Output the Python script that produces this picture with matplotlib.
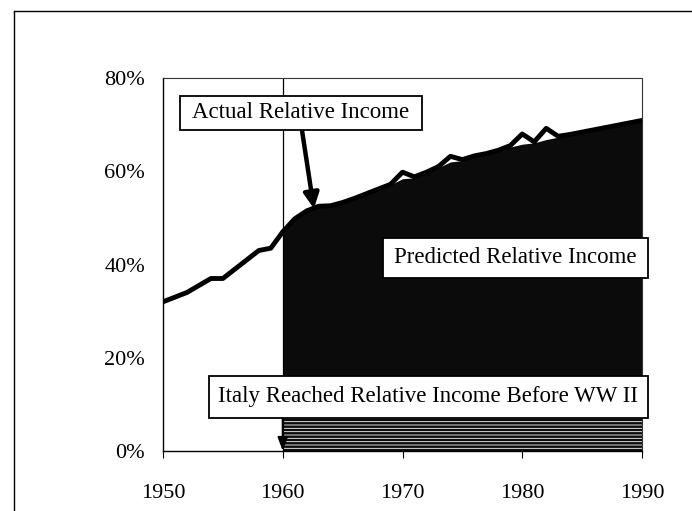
import numpy as np
import matplotlib
matplotlib.use("Agg")
import matplotlib.pyplot as plt
from matplotlib.patches import Rectangle
from matplotlib.lines import Line2D

plt.rcParams['font.family'] = ['Liberation Serif', 'DejaVu Serif']
plt.rcParams['hatch.linewidth'] = 0.6

# actual relative income, 1950-1990 (share of benchmark income, %)
years = np.arange(1950, 1991)
actual = [32.0, 33.0, 34.0, 35.5, 37.0, 37.0, 39.0, 41.0, 43.0, 43.5,
          47.0, 49.8, 51.5, 52.5, 52.6, 53.3, 54.2, 55.2, 56.2, 57.2,
          59.8, 58.8, 59.8, 61.0, 63.2, 62.5, 63.3, 63.8, 64.5, 65.5,
          68.0, 66.3, 69.2, 67.5, 67.9, 68.4, 68.9, 69.4, 69.9, 70.4, 70.9]

# predicted relative income, 1960-1990 (shaded area)
pred_years = np.arange(1960, 1991)
predicted = [46.5, 49.5, 51.3, 52.3, 52.5, 53.2, 54.1, 55.1, 56.1, 57.1,
             58.4, 58.6, 59.6, 60.8, 62.0, 62.3, 63.1, 63.7, 64.4, 65.2,
             65.8, 66.1, 66.8, 67.3, 67.8, 68.3, 68.8, 69.3, 69.8, 70.3, 70.8]

prewar_year = 1960
yticks = [0, 20, 40, 60, 80]
ytick_labels = ['0%', '20%', '40%', '60%', '80%']
xticks = [1950, 1960, 1970, 1980, 1990]

fig = plt.figure(figsize=(6.92, 5.11), dpi=100)
ax = fig.add_axes([163/692, 60/511, 479/692, 373/511])

ax.fill_between(pred_years, 0, predicted, color='#0b0b0b', lw=0, zorder=1)
band = np.minimum(predicted, 8)
ax.fill_between(pred_years, 0.4, band, facecolor='#0b0b0b', hatch='-----',
                edgecolor='white', lw=0, zorder=1.5)
ax.plot(years, actual, color='black', lw=3.5, solid_capstyle='round',
        solid_joinstyle='round', zorder=3)
ax.axvline(prewar_year, color='black', lw=0.9, zorder=2)

ax.set_xlim(1950, 1990)
ax.set_ylim(0, 80)
ax.set_xticks(xticks)
ax.set_yticks(yticks)
ax.set_yticklabels(ytick_labels)
ax.tick_params(axis='x', length=5, width=0.8, pad=19, labelsize=16)
ax.tick_params(axis='y', length=0, pad=13, labelsize=16)
for s in ['top', 'right']:
    ax.spines[s].set_linestyle((0, (1, 1)))
    ax.spines[s].set_linewidth(0.8)
    ax.spines[s].set_color('#333333')
for s in ['left', 'bottom']:
    ax.spines[s].set_linewidth(1.0)


def label_box(x0, x1, y0, y1, text):
    ax.add_patch(Rectangle((x0, y0), x1 - x0, y1 - y0, facecolor='white',
                           edgecolor='black', lw=1.3, zorder=5, clip_on=False))
    ax.text((x0 + x1) / 2, (y0 + y1) / 2, text, ha='center', va='center',
            fontsize=16.5, zorder=6, clip_on=False)


label_box(1951.4, 1971.6, 68.9, 76.1, 'Actual Relative Income')
label_box(1968.4, 1990.5, 37.1, 45.7, 'Predicted Relative Income')
label_box(1953.8, 1990.5, 7.1, 16.1, 'Italy Reached Relative Income Before WW II')

ax.annotate('', xy=(1962.6, 52.0), xytext=(1961.6, 68.9),
            arrowprops=dict(arrowstyle='-|>,head_length=0.9,head_width=0.45',
                            color='black', lw=3.2, shrinkA=0, shrinkB=0),
            zorder=4)
ax.annotate('', xy=(prewar_year, 0), xytext=(prewar_year, 7.1),
            arrowprops=dict(arrowstyle='-|>,head_length=0.8,head_width=0.3',
                            color='black', lw=1.5, shrinkA=0, shrinkB=0),
            zorder=4)

# scanned page border
fig.add_artist(Line2D([14/692, 14/692], [0, 1 - 11/511], color='black', lw=1.0))
fig.add_artist(Line2D([14/692, 1], [1 - 11/511, 1 - 11/511], color='black', lw=1.0))

fig.savefig('out.png', dpi=100)
